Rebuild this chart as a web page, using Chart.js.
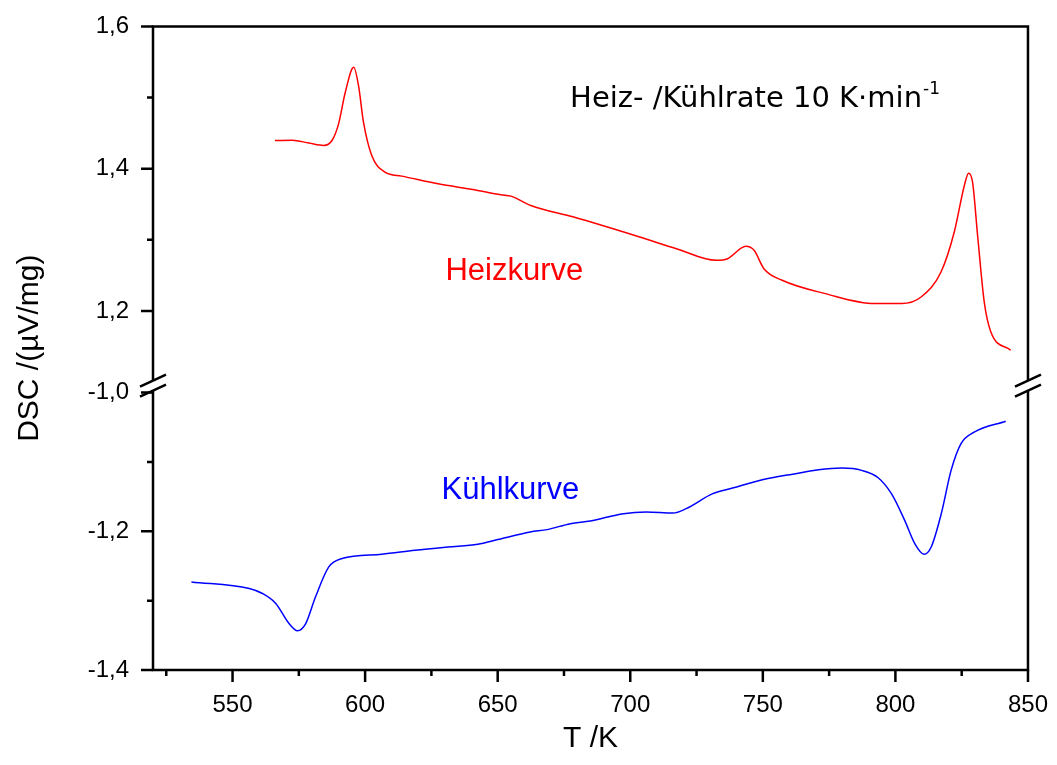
<!DOCTYPE html>
<html>
<head>
<meta charset="utf-8">
<script src="https://cdn.jsdelivr.net/npm/chart.js@4.4.1/dist/chart.umd.min.js"></script>
<style>
  html, body { margin: 0; padding: 0; background: #fff; }
</style>
</head>
<body>
<canvas id="dsc_chart" width="1057" height="765"></canvas>
<script>
// Heizkurve (heating), values
const heat_T = [566, 572.5, 578.8, 584.4, 587.5, 590, 592.5, 595.7, 597.5, 599.4, 602.5, 607.5, 613.8,
    627.5, 641.2, 651.2, 655, 662.5, 678.7, 703.6, 717.4, 732.4, 736.7, 743.6, 746.7, 750.4, 757.3,
    773.6, 792.3, 802.3, 809.7, 817.2, 822.2, 826, 827.6, 829.1, 831, 833.5, 836, 843.5];
const heat_dsc = [1.4396, 1.440, 1.436, 1.4326, 1.4396, 1.463, 1.507, 1.5425, 1.517, 1.465, 1.4185, 1.395, 1.3895,
    1.3787, 1.3703, 1.3633, 1.3614, 1.3483, 1.332, 1.3039, 1.2875, 1.2711, 1.2734, 1.2908, 1.2852, 1.2594, 1.2431,
    1.2243, 1.2103, 1.2103, 1.2196, 1.2547, 1.3109, 1.3764, 1.3937, 1.381, 1.3062, 1.2126, 1.1705, 1.1448];

// Kühlkurve (cooling)
const cool_T = [534.5, 556.3, 561.3, 566.3, 571.3, 574.5, 577.6, 581.3, 586.3, 591.3, 606.3, 618.8, 631.2,
    642.5, 650, 662.3, 668.7, 677.4, 684.9, 697.4, 706.1, 716.1, 721.1, 731.1, 738.6, 749.8, 762.3, 771,
    779.8, 787.3, 793.5, 798.5, 803.5, 807.3, 810.8, 813.5, 817.3, 821, 824.7, 829.7, 841.6];
const cool_dsc = [-1.273, -1.2825, -1.2897, -1.304, -1.333, -1.3434, -1.333, -1.2945, -1.2514, -1.2393, -1.233, -1.2273, -1.2226,
    -1.2187, -1.212, -1.201, -1.1976, -1.189, -1.1852, -1.1746, -1.1722, -1.1737, -1.1674, -1.1458, -1.1377, -1.1257, -1.117, -1.1113,
    -1.1089, -1.1122, -1.1228, -1.1458, -1.1842, -1.2177, -1.2331, -1.2226, -1.1746, -1.1122, -1.0739, -1.0571, -1.0413];

// ticks (all) and the ones that get a label
const x_ticks = [525, 550, 575, 600, 625, 650, 675, 700, 725, 750, 775, 800, 825, 850];
const x_labels = [550, 600, 650, 700, 750, 800, 850];
const top_ticks = [1.2, 1.3, 1.4, 1.5, 1.6];
const top_labels = [1.2, 1.4, 1.6];
const bottom_ticks = [-1.4, -1.3, -1.2, -1.1, -1.0];
const bottom_labels = [-1.4, -1.2, -1.0];

const sans = "'Liberation Sans', Arial, sans-serif";

const has = (list, v) => list.some(l => Math.abs(l - v) < 1e-6);
const comma = v => v.toFixed(1).replace('.', ',');

const frame_plugin = {
    id: 'frame',
    afterDraw: function(chart) {
        const c = chart.ctx;
        const area = chart.chartArea;
        const xs = chart.scales.x, yt = chart.scales.yTop, yb = chart.scales.yBottom;
        const y_break = yt.bottom;

        c.save();
        c.strokeStyle = '#000';
        c.lineWidth = 2.5;
        c.lineCap = 'butt';

        // frame, broken at the axis break
        c.beginPath();
        c.moveTo(area.left, y_break - 5); c.lineTo(area.left, area.top);
        c.lineTo(area.right, area.top); c.lineTo(area.right, y_break - 5);
        c.moveTo(area.left, y_break + 5); c.lineTo(area.left, area.bottom);
        c.lineTo(area.right, area.bottom); c.lineTo(area.right, y_break + 5);
        c.stroke();

        // break marks
        c.beginPath();
        [area.left, area.right].forEach(function(x) {
            [y_break - 5, y_break + 5].forEach(function(yc) {
                c.moveTo(x - 13, yc + 6);
                c.lineTo(x + 13, yc - 6);
            });
        });
        c.stroke();

        // ticks, long on labelled ones
        c.beginPath();
        [[yt, top_labels], [yb, bottom_labels]].forEach(function(pair) {
            pair[0].ticks.forEach(function(t) {
                const y = pair[0].getPixelForValue(t.value);
                const len = has(pair[1], t.value) ? 12 : 6;
                c.moveTo(area.left - len, y); c.lineTo(area.left, y);
            });
        });
        xs.ticks.forEach(function(t) {
            const x = xs.getPixelForValue(t.value);
            const len = has(x_labels, t.value) ? 12 : 6;
            c.moveTo(x, area.bottom); c.lineTo(x, area.bottom + len);
        });
        c.stroke();

        // y axis title, spanning both parts
        c.fillStyle = '#000';
        c.font = '30px ' + sans;
        c.textAlign = 'center';
        c.textBaseline = 'middle';
        c.translate(30, (area.top + area.bottom) / 2);
        c.rotate(-Math.PI / 2);
        c.fillText('DSC /(\u00b5V/mg)', 0, 0);
        c.restore();

        // curve names and rate note
        c.save();
        c.textBaseline = 'middle';
        c.textAlign = 'center';
        c.font = '31px ' + sans;
        c.fillStyle = '#ff0000';
        c.fillText('Heizkurve', xs.getPixelForValue(656.3), yt.getPixelForValue(1.255));
        c.fillStyle = '#0000ff';
        c.fillText('Kühlkurve', xs.getPixelForValue(654.8), yb.getPixelForValue(-1.141));

        c.fillStyle = '#000';
        c.textAlign = 'left';
        c.font = "29px 'DejaVu Sans', Verdana, sans-serif";
        const note = 'Heiz- /Kühlrate 10 K\u00b7min';
        const nx = xs.getPixelForValue(677.3), ny = yt.getPixelForValue(1.4975);
        c.fillText(note, nx, ny);
        const w = c.measureText(note).width;
        c.font = "17px 'DejaVu Sans', Verdana, sans-serif";
        c.fillText('-1', nx + w + 1, ny - 10);
        c.restore();
    }
};

const tick_font = { family: sans, size: 24 };

new Chart(document.getElementById('dsc_chart'), {
    type: 'line',
    data: {
        datasets: [{
            label: 'Heizkurve',
            data: heat_T.map((t, i) => ({ x: t, y: heat_dsc[i] })),
            yAxisID: 'yTop',
            borderColor: '#ff0000',
            borderWidth: 1.5,
            pointRadius: 0,
            cubicInterpolationMode: 'monotone',
            fill: false
        }, {
            label: 'Kühlkurve',
            data: cool_T.map((t, i) => ({ x: t, y: cool_dsc[i] })),
            yAxisID: 'yBottom',
            borderColor: '#0000ff',
            borderWidth: 1.5,
            pointRadius: 0,
            cubicInterpolationMode: 'monotone',
            fill: false
        }]
    },
    options: {
        responsive: false,
        animation: false,
        devicePixelRatio: 1,
        layout: { padding: { left: 10, right: 23, top: 24, bottom: 4 } },
        plugins: { legend: { display: false }, tooltip: { enabled: false } },
        scales: {
            x: {
                type: 'linear',
                min: 520,
                max: 850,
                afterBuildTicks: function(scale) { scale.ticks = x_ticks.map(v => ({ value: v })); },
                afterFit: function(scale) { scale.height = 91; },
                ticks: {
                    callback: v => has(x_labels, v) ? String(v) : '',
                    font: tick_font, color: '#000', maxRotation: 0, autoSkip: false, padding: 9
                },
                grid: { drawOnChartArea: false, tickLength: 12, tickColor: 'transparent' },
                border: { display: false },
                title: { display: true, text: 'T /K', color: '#000', font: { family: sans, size: 30 }, padding: { top: 6 } }
            },
            // stacked axes are laid out bottom part first
            yBottom: {
                type: 'linear',
                position: 'left',
                stack: 'dsc',
                stackWeight: 285,
                min: -1.4,
                max: -0.99,
                afterBuildTicks: function(scale) { scale.ticks = bottom_ticks.map(v => ({ value: v })); },
                afterFit: function(scale) { scale.width = 143; },
                ticks: {
                    callback: v => has(bottom_labels, v) ? comma(v) : '',
                    font: tick_font, color: '#000', padding: 12
                },
                grid: { drawOnChartArea: false, tickLength: 12, tickColor: 'transparent' },
                border: { display: false }
            },
            yTop: {
                type: 'linear',
                position: 'left',
                stack: 'dsc',
                stackWeight: 360,
                min: 1.095,
                max: 1.6,
                afterBuildTicks: function(scale) { scale.ticks = top_ticks.map(v => ({ value: v })); },
                afterFit: function(scale) { scale.width = 143; },
                ticks: {
                    callback: v => has(top_labels, v) ? comma(v) : '',
                    font: tick_font, color: '#000', padding: 12
                },
                grid: { drawOnChartArea: false, tickLength: 12, tickColor: 'transparent' },
                border: { display: false }
            }
        }
    },
    plugins: [frame_plugin]
});
</script>
</body>
</html>
